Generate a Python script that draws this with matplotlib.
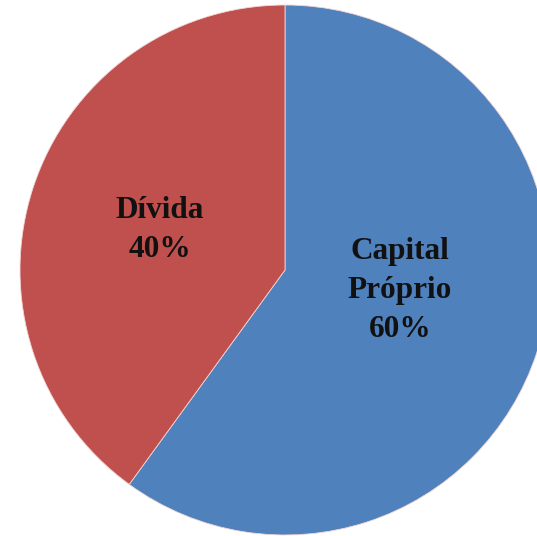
import matplotlib
matplotlib.use("Agg")
import matplotlib.pyplot as plt

# Capital structure shares
categories = ["Capital\nPróprio", "Dívida"]
shares = [60, 40]
colors = ["#4F81BD", "#C0504D"]

W, H, DPI = 537, 536, 100
fig = plt.figure(figsize=(W / DPI, H / DPI), dpi=DPI)
ax = fig.add_axes([0, 0, 1, 1])

wedges, _ = ax.pie(
    shares,
    colors=colors,
    startangle=90,
    counterclock=False,
    radius=1.0,
    wedgeprops=dict(edgecolor="#f2d6d6", linewidth=0.6),
)

# Label anchors (data coordinates, pie radius = 1)
label_pos = [(0.434, -0.078), (-0.472, 0.152)]
for name, val, (x, y) in zip(categories, shares, label_pos):
    ax.text(x, y, f"{name}\n{val}%", ha="center", va="center",
            fontsize=22.5, fontweight="bold", family="Liberation Serif",
            color="#111111", linespacing=1.45)

# Centre of the pie sits at (285, 270) px with a 265 px radius
R = 265.0
cx, cy = 285.0, 270.0
ax.set_aspect("auto")
ax.set_xlim(-cx / R, (W - cx) / R)
ax.set_ylim(-(H - cy) / R, cy / R)
ax.axis("off")

fig.savefig("out.png", dpi=DPI, facecolor="white")
